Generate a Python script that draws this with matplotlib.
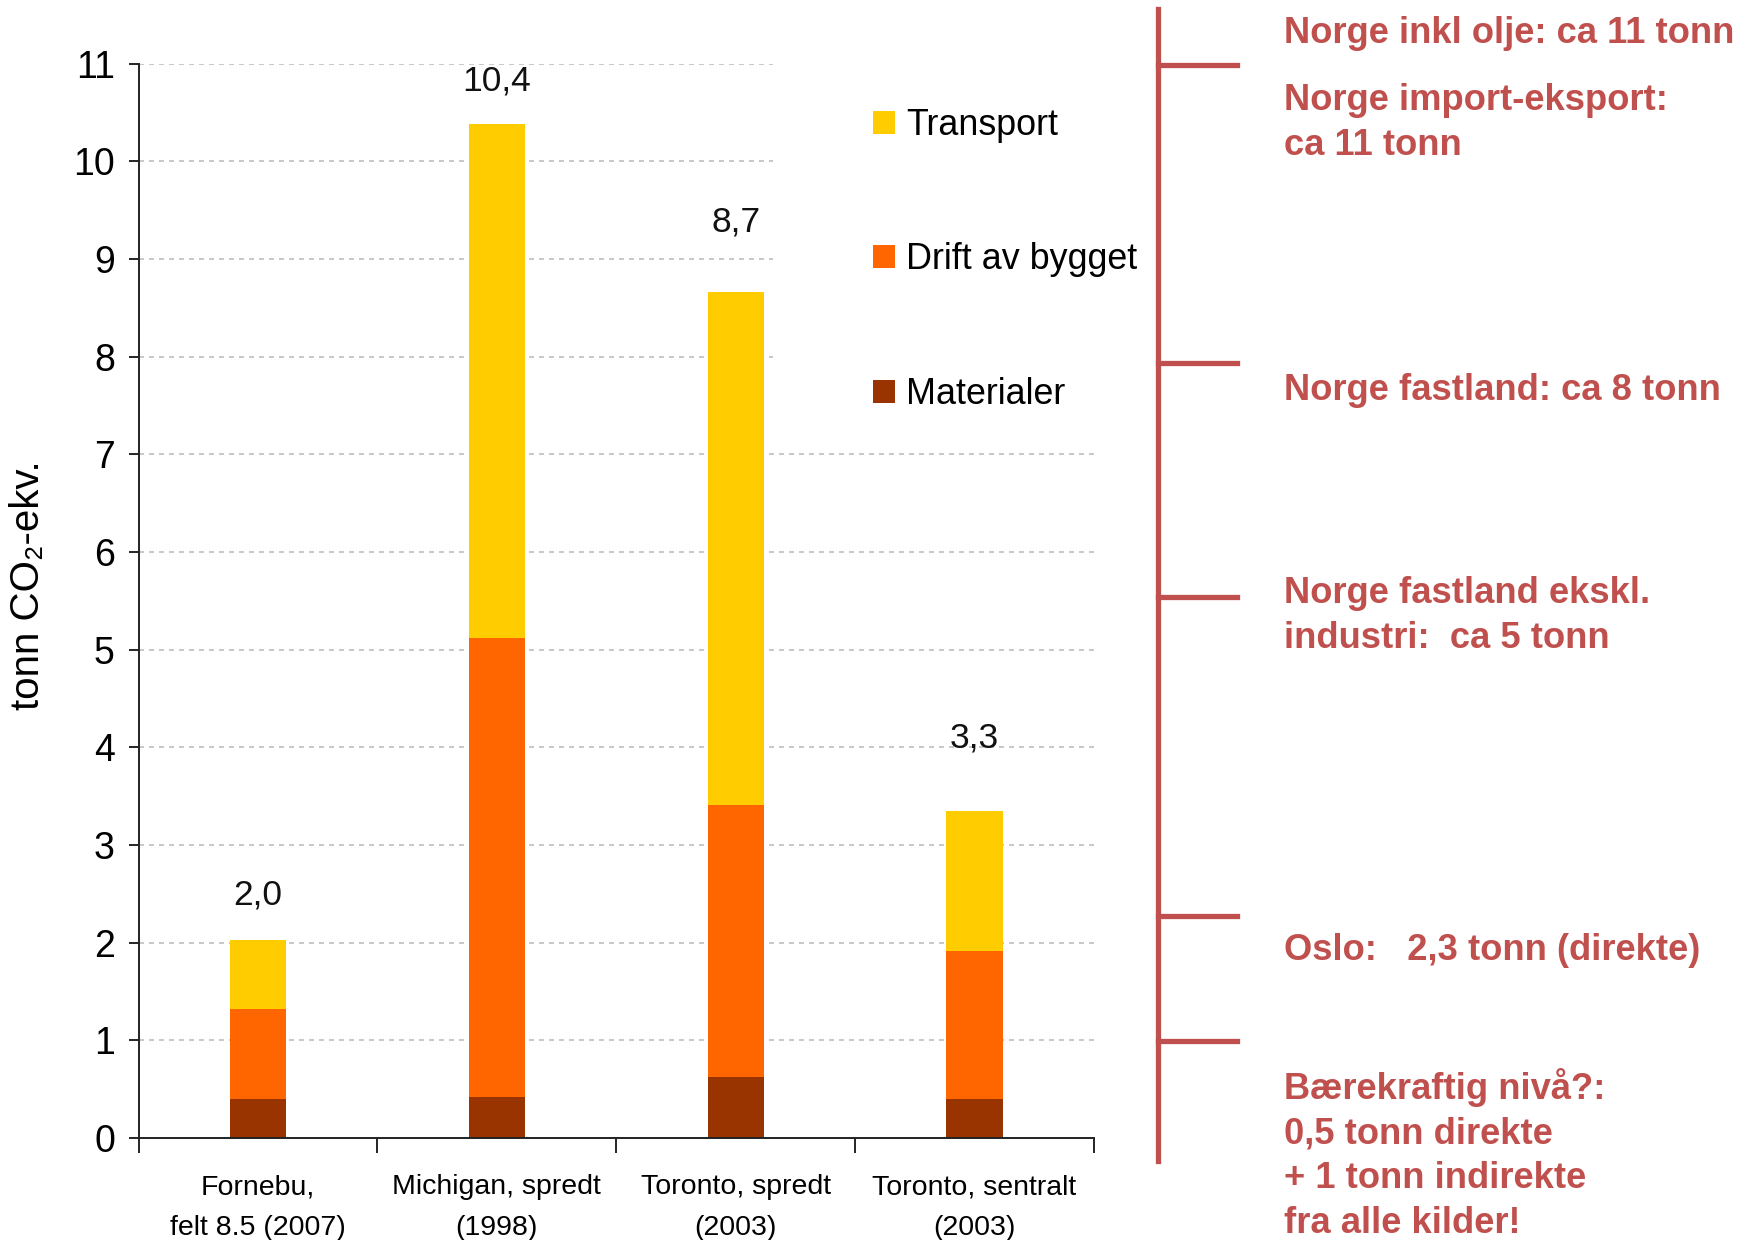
import numpy as np
import matplotlib
matplotlib.use("Agg")
import matplotlib.pyplot as plt
from matplotlib import font_manager
from matplotlib.patches import Patch

# data (tonn CO2-ekv. per person)
categories = ["Fornebu,\nfelt 8.5 (2007)", "Michigan, spredt\n(1998)",
              "Toronto, spredt\n(2003)", "Toronto, sentralt\n(2003)"]
materialer = [0.40, 0.42, 0.62, 0.40]
drift = [0.92, 4.70, 2.79, 1.51]
transport = [0.71, 5.26, 5.25, 1.44]
total_labels = ["2,0", "10,4", "8,7", "3,3"]
label_gap = [0.46, 0.44, 0.72, 0.75]

series_names = ["Transport", "Drift av bygget", "Materialer"]
colors = {"Transport": "#FFCC00", "Drift av bygget": "#FF6600", "Materialer": "#993300"}

notes = [
    ("Norge inkl olje: ca 11 tonn", 30),
    ("Norge import-eksport:\nca 11 tonn", 97),
    ("Norge fastland: ca 8 tonn", 387),
    ("Norge fastland ekskl.\nindustri:  ca 5 tonn", 590),
    ("Oslo:   2,3 tonn (direkte)", 947),
    ("Bærekraftig nivå?:\n0,5 tonn direkte\n+ 1 tonn indirekte\nfra alle kilder!", 1082),
]
bracket_ticks = [65, 363, 597, 916, 1041]

names = {f.name for f in font_manager.fontManager.ttflist}
narrow = "Liberation Sans Narrow" if "Liberation Sans Narrow" in names else "Liberation Sans"
fam = [narrow, "Liberation Sans", "DejaVu Sans"]
plt.rcParams["font.family"] = fam

W, H = 1751, 1240
fig = plt.figure(figsize=(W / 100, H / 100), dpi=100)
ax_w = 1094 - 138.5
ax = fig.add_axes([138.5 / W, 1 - 1138 / H, ax_w / W, (1138 - 63.7) / H])

x = np.arange(len(categories))
mat = np.array(materialer)
dr = np.array(drift)
tr = np.array(transport)
tot = mat + dr + tr
bw = 0.235

# grid: upper rows stop before the legend
for yv in range(1, 12):
    xmax = 0.664 if yv >= 8 else 1.0
    ax.axhline(yv, xmin=0, xmax=xmax, color="#BFBFBF", lw=1.2, ls=(0, (3, 3)), zorder=0)

ax.bar(x, mat, bw, color=colors["Materialer"], zorder=2)
ax.bar(x, dr, bw, bottom=mat, color=colors["Drift av bygget"], zorder=2)
ax.bar(x, tr, bw, bottom=mat + dr, color=colors["Transport"], zorder=2)

for i in range(len(x)):
    ax.text(x[i], tot[i] + label_gap[i], total_labels[i], ha="center", va="center",
            fontsize=25.5, color="#111111")

ax.set_xlim(-0.5, 3.5)
ax.set_ylim(0, 11)
ax.set_yticks(range(0, 12))
ax.tick_params(axis="y", labelsize=27, length=7, width=1.2, direction="out", pad=10)
ax.set_xticks(x)
ax.set_xticklabels(categories, fontsize=20.5, linespacing=1.75)
ax.tick_params(axis="x", length=0, pad=26)
ax.set_xticks(np.arange(-0.5, 4.0, 1.0), minor=True)
ax.tick_params(axis="x", which="minor", length=11, width=1.2, direction="out")
for s in ["top", "right"]:
    ax.spines[s].set_visible(False)
for s in ["left", "bottom"]:
    ax.spines[s].set_linewidth(1.4)
    ax.spines[s].set_color("#222222")

ax.set_ylabel("tonn CO\u2082-ekv.", fontsize=29)
ax.yaxis.set_label_coords((47 - 138.5) / ax_w, 0.515)

handles = [Patch(facecolor=colors[n], edgecolor="none") for n in series_names]
fig.legend(handles, series_names, loc="upper left", bbox_to_anchor=(0.4985, 0.913),
           frameon=False, fontsize=25.8, handlelength=0.62, handleheight=0.62,
           handletextpad=0.3, labelspacing=2.78, borderpad=0, borderaxespad=0)

# red bracket with notes
red = "#C0504D"
xv = 1158 / W
fig.add_artist(plt.Line2D([xv, xv], [1 - 9 / H, 1 - 1161 / H], color=red, lw=3.8,
                          transform=fig.transFigure))
for yt in bracket_ticks:
    fig.add_artist(plt.Line2D([xv, 1237 / W], [1 - yt / H, 1 - yt / H], color=red, lw=3.8,
                              transform=fig.transFigure))
for txt, yc in notes:
    fig.text(1284 / W, 1 - (yc - 14) / H, txt, ha="left", va="top", color=red,
             fontsize=26.2, fontweight="bold", family=["Liberation Sans", "DejaVu Sans"],
             linespacing=1.36)

fig.savefig("out.png", dpi=100, facecolor="white")
